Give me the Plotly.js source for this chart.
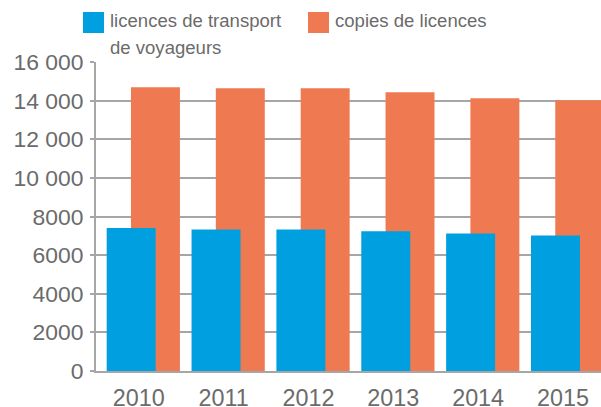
<!DOCTYPE html>
<html>
<head>
<meta charset="utf-8">
<script src="https://cdn.plot.ly/plotly-3.0.1.min.js"></script>
<style>
html,body{margin:0;padding:0;background:#fff;}
#chart{width:601px;height:407px;}
</style>
</head>
<body>
<div id="chart"></div>
<script>
var years = ["2010", "2011", "2012", "2013", "2014", "2015"];
var licences = [7400, 7330, 7330, 7230, 7120, 7020];
var copies = [14690, 14640, 14640, 14430, 14120, 14020];
var seriesNames = ["licences de transport", "de voyageurs", "copies de licences"];
var yTickVals = [0, 2000, 4000, 6000, 8000, 10000, 12000, 14000, 16000];
var yTickText = ["0", "2000", "4000", "6000", "8000", "10 000", "12 000", "14 000", "16 000"];

var BLUE = "#009fdf", ORANGE = "#ef7a52", TXT = "#6b6b6b", GRID = "#a6a6a6";
var FONT = "Liberation Sans Narrow, Liberation Sans, Arial, sans-serif";

// pick font sizes so that text widths match the reference
var cv = document.createElement("canvas").getContext("2d");
function fit(text, target) {
  cv.font = "100px " + FONT;
  return 100 * target / cv.measureText(text).width;
}
var legSize = (fit(seriesNames[0], 172) + fit(seriesNames[2], 151)) / 2;
var yTickSize = fit(yTickText[8], 70);
var xTickSize = fit(years[0], 52);

var L = 96, T = 62, W = 505, H = 309;
function px(x){ return (x - L) / W; }
function py(y){ return (T + H - y) / H; }

var traces = [
  {type: "bar", x: years, y: copies, name: seriesNames[2], marker: {color: ORANGE},
   width: 0.577, offset: -0.091, showlegend: false, hoverinfo: "x+y"},
  {type: "bar", x: years, y: licences, name: seriesNames[0] + " " + seriesNames[1], marker: {color: BLUE},
   width: 0.577, offset: -0.377, showlegend: false, hoverinfo: "x+y"}
];

var layout = {
  width: 601, height: 407,
  margin: {l: L, r: 601 - L - W, t: T, b: 407 - T - H, pad: 0},
  paper_bgcolor: "#fff", plot_bgcolor: "#fff",
  barmode: "overlay",
  showlegend: false,
  font: {family: FONT, color: TXT, size: yTickSize},
  xaxis: {
    type: "category", range: [-0.503, 5.448], fixedrange: true,
    showgrid: false, showline: true, linecolor: GRID, linewidth: 2,
    ticks: "", tickfont: {family: FONT, size: xTickSize, color: TXT},
    ticklabelstandoff: 5
  },
  yaxis: {
    range: [0, 16000], fixedrange: true,
    tickvals: yTickVals, ticktext: yTickText,
    showgrid: true, gridcolor: GRID, gridwidth: 2,
    showline: true, linecolor: GRID, linewidth: 2,
    ticks: "outside", ticklen: 4, tickcolor: GRID, tickwidth: 2,
    tickfont: {family: FONT, size: yTickSize, color: TXT},
    ticklabelstandoff: 2,
    zeroline: false
  },
  shapes: [
    {type: "rect", xref: "paper", yref: "paper", x0: px(83), x1: px(104), y0: py(33), y1: py(12),
     fillcolor: BLUE, line: {width: 0}},
    {type: "rect", xref: "paper", yref: "paper", x0: px(308), x1: px(329), y0: py(33), y1: py(12),
     fillcolor: ORANGE, line: {width: 0}}
  ],
  annotations: [
    {xref: "paper", yref: "paper", x: px(108), y: py(20), xanchor: "left", yanchor: "middle",
     text: seriesNames[0], showarrow: false, font: {family: FONT, size: legSize, color: TXT}},
    {xref: "paper", yref: "paper", x: px(108), y: py(47), xanchor: "left", yanchor: "middle",
     text: seriesNames[1], showarrow: false, font: {family: FONT, size: legSize, color: TXT}},
    {xref: "paper", yref: "paper", x: px(333), y: py(20), xanchor: "left", yanchor: "middle",
     text: seriesNames[2], showarrow: false, font: {family: FONT, size: legSize, color: TXT}}
  ]
};

Plotly.newPlot("chart", traces, layout, {displayModeBar: false, staticPlot: true});
</script>
</body>
</html>
